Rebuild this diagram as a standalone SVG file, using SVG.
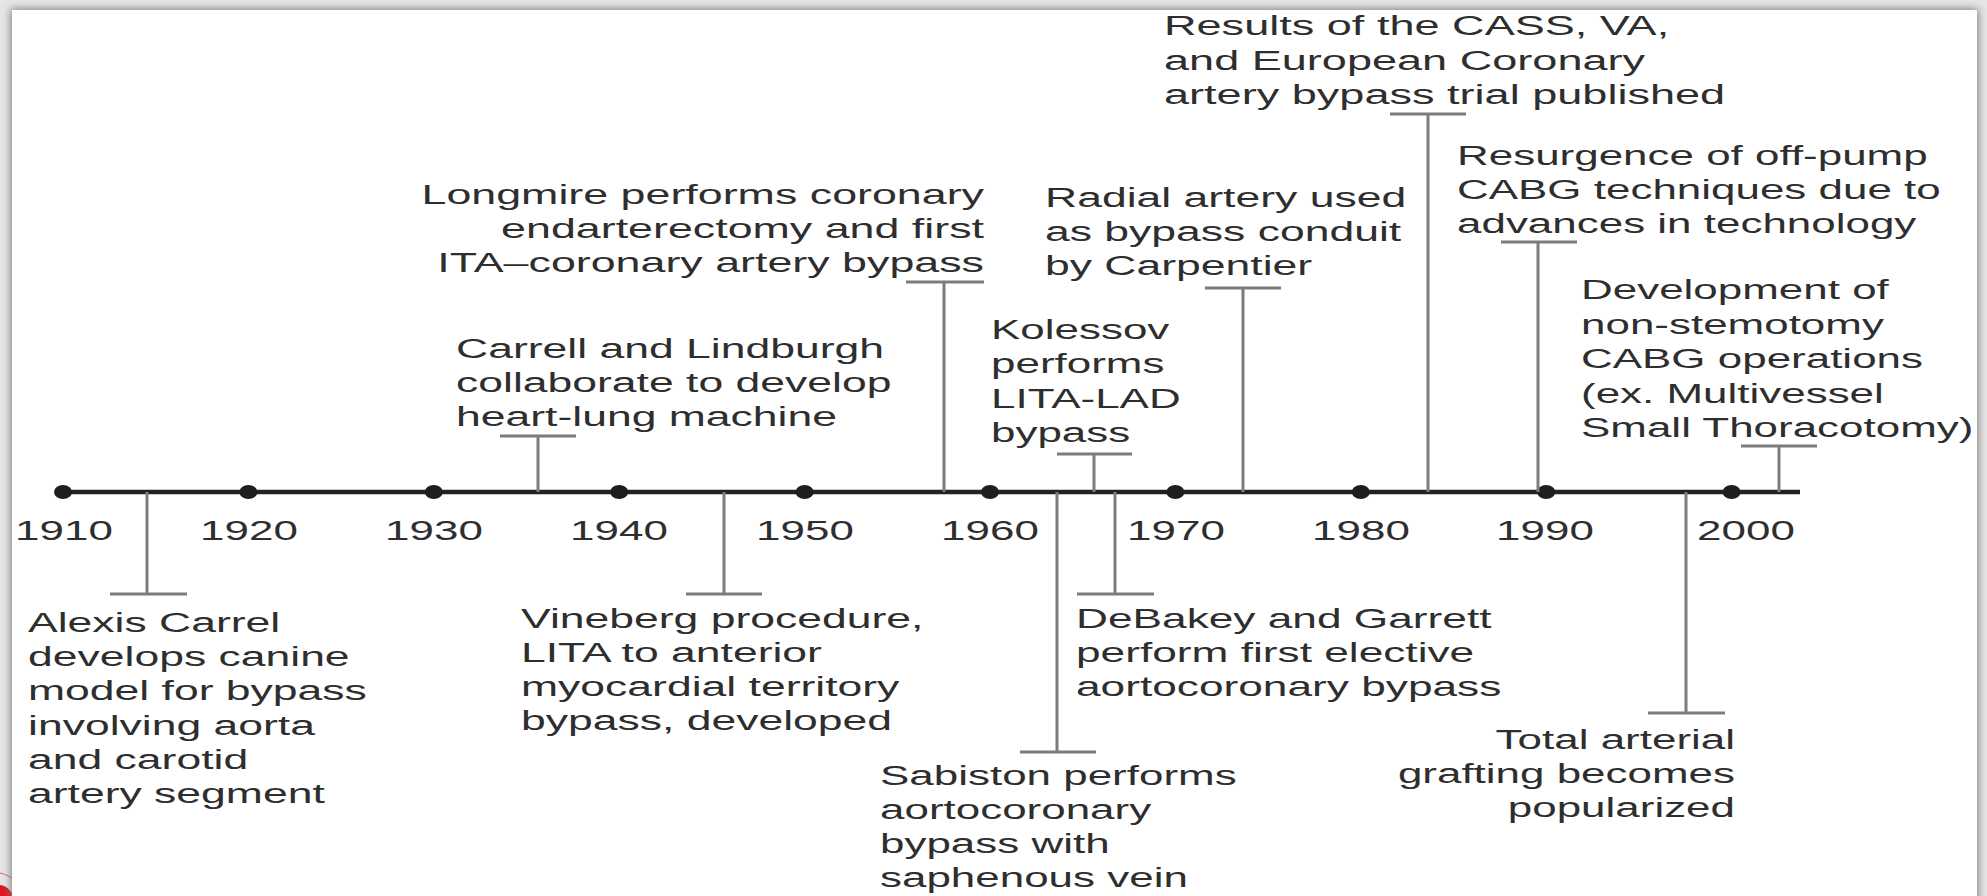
<svg xmlns="http://www.w3.org/2000/svg" width="1987" height="896" viewBox="0 0 1987 896">
<style>
.lbl{font-family:"Liberation Sans",Arial,sans-serif;font-size:28px;fill:#2e2e2e}
.yr{font-family:"Liberation Sans",Arial,sans-serif;font-size:28px;fill:#2e2e2e;text-anchor:middle}
.end{text-anchor:end}
.c{stroke:#7c7c7c;stroke-width:3;fill:none}
.axis{stroke:#222;stroke-width:4.5}
.dot{fill:#1e1e1e}
</style>
<defs>
<filter id="sh" x="-5%" y="-5%" width="110%" height="110%"><feGaussianBlur stdDeviation="4"/></filter>
</defs>
<rect x="0" y="0" width="1987" height="896" fill="#e6e6e6"/>
<circle cx="-2" cy="901" r="16" fill="#e0141e"/>
<circle cx="-8" cy="908" r="36" fill="none" stroke="#e06060" stroke-width="1"/>
<rect x="11" y="9" width="1967" height="920" fill="#7a7a7a" filter="url(#sh)"/>
<rect x="12" y="10" width="1965" height="900" fill="#ffffff"/>

<g id="axis">
<line class="axis" x1="63" y1="492" x2="1800" y2="492"/>
<ellipse class="dot" cx="63" cy="492" rx="9" ry="7"/>
<ellipse class="dot" cx="248.4" cy="492" rx="9" ry="7"/>
<ellipse class="dot" cx="433.8" cy="492" rx="9" ry="7"/>
<ellipse class="dot" cx="619.2" cy="492" rx="9" ry="7"/>
<ellipse class="dot" cx="804.6" cy="492" rx="9" ry="7"/>
<ellipse class="dot" cx="990" cy="492" rx="9" ry="7"/>
<ellipse class="dot" cx="1175.4" cy="492" rx="9" ry="7"/>
<ellipse class="dot" cx="1360.8" cy="492" rx="9" ry="7"/>
<ellipse class="dot" cx="1546.2" cy="492" rx="9" ry="7"/>
<ellipse class="dot" cx="1731.6" cy="492" rx="9" ry="7"/>
<text class="yr" transform="translate(64,540) scale(1.57,1)">1910</text>
<text class="yr" transform="translate(249,540) scale(1.57,1)">1920</text>
<text class="yr" transform="translate(434,540) scale(1.57,1)">1930</text>
<text class="yr" transform="translate(619,540) scale(1.57,1)">1940</text>
<text class="yr" transform="translate(805,540) scale(1.57,1)">1950</text>
<text class="yr" transform="translate(990,540) scale(1.57,1)">1960</text>
<text class="yr" transform="translate(1176,540) scale(1.57,1)">1970</text>
<text class="yr" transform="translate(1361,540) scale(1.57,1)">1980</text>
<text class="yr" transform="translate(1545,540) scale(1.57,1)">1990</text>
<text class="yr" transform="translate(1746,540) scale(1.57,1)">2000</text>
</g>

<g id="connectors">
<path class="c" d="M147 492V594M110 594H187"/>
<path class="c" d="M538 492V436M500 436H576"/>
<path class="c" d="M944 492V282M906 282H984"/>
<path class="c" d="M724 492V594M686 594H762"/>
<path class="c" d="M1057 492V752M1020 752H1096"/>
<path class="c" d="M1094 492V454M1057 454H1132"/>
<path class="c" d="M1115 492V594M1077 594H1154"/>
<path class="c" d="M1243 492V288M1205 288H1281"/>
<path class="c" d="M1428 492V114M1390 114H1466"/>
<path class="c" d="M1538 492V242M1501 242H1577"/>
<path class="c" d="M1779 492V446M1741 446H1817"/>
<path class="c" d="M1686 492V713M1648 713H1725"/>
</g>

<g id="n1910">
<text class="lbl" transform="translate(28,0) scale(1.59,1)"><tspan x="0" y="632">Alexis Carrel</tspan><tspan x="0" y="666">develops canine</tspan><tspan x="0" y="700">model for bypass</tspan><tspan x="0" y="735">involving aorta</tspan><tspan x="0" y="769">and carotid</tspan><tspan x="0" y="803">artery segment</tspan></text>
</g>
<g id="n1935">
<text class="lbl" transform="translate(456,0) scale(1.59,1)"><tspan x="0" y="358">Carrell and Lindburgh</tspan><tspan x="0" y="392">collaborate to develop</tspan><tspan x="0" y="426">heart-lung machine</tspan></text>
</g>
<g id="n1957">
<text class="lbl end" transform="translate(984,0) scale(1.6,1)"><tspan x="0" y="204">Longmire performs coronary</tspan><tspan x="0" y="238">endarterectomy and first</tspan><tspan x="0" y="272">ITA–coronary artery bypass</tspan></text>
</g>
<g id="n1946">
<text class="lbl" transform="translate(521,0) scale(1.59,1)"><tspan x="0" y="628">Vineberg procedure,</tspan><tspan x="0" y="662">LITA to anterior</tspan><tspan x="0" y="696">myocardial territory</tspan><tspan x="0" y="730">bypass, developed</tspan></text>
</g>
<g id="n1964s">
<text class="lbl" transform="translate(880,0) scale(1.57,1)"><tspan x="0" y="785">Sabiston performs</tspan><tspan x="0" y="819">aortocoronary</tspan><tspan x="0" y="853">bypass with</tspan><tspan x="0" y="887">saphenous vein</tspan></text>
</g>
<g id="n1964k">
<text class="lbl" transform="translate(991,0) scale(1.57,1)"><tspan x="0" y="339">Kolessov</tspan><tspan x="0" y="373">performs</tspan><tspan x="0" y="408">LITA-LAD</tspan><tspan x="0" y="442">bypass</tspan></text>
</g>
<g id="n1967">
<text class="lbl" transform="translate(1076,0) scale(1.58,1)"><tspan x="0" y="628">DeBakey and Garrett</tspan><tspan x="0" y="662">perform first elective</tspan><tspan x="0" y="696">aortocoronary bypass</tspan></text>
</g>
<g id="n1973">
<text class="lbl" transform="translate(1045,0) scale(1.59,1)"><tspan x="0" y="207">Radial artery used</tspan><tspan x="0" y="241">as bypass conduit</tspan><tspan x="0" y="275">by Carpentier</tspan></text>
</g>
<g id="n1983">
<text class="lbl" transform="translate(1164,0) scale(1.61,1)"><tspan x="0" y="35">Results of the CASS, VA,</tspan><tspan x="0" y="70">and European Coronary</tspan><tspan x="0" y="104">artery bypass trial published</tspan></text>
</g>
<g id="n1990">
<text class="lbl" transform="translate(1457,0) scale(1.57,1)"><tspan x="0" y="165">Resurgence of off-pump</tspan><tspan x="0" y="199">CABG techniques due to</tspan><tspan x="0" y="233">advances in technology</tspan></text>
</g>
<g id="n2002">
<text class="lbl" transform="translate(1581,0) scale(1.57,1)"><tspan x="0" y="299">Development of</tspan><tspan x="0" y="334">non-stemotomy</tspan><tspan x="0" y="368">CABG operations</tspan><tspan x="0" y="403">(ex. Multivessel</tspan><tspan x="0" y="437">Small Thoracotomy)</tspan></text>
</g>
<g id="n1997">
<text class="lbl end" transform="translate(1735,0) scale(1.57,1)"><tspan x="0" y="749">Total arterial</tspan><tspan x="0" y="783">grafting becomes</tspan><tspan x="0" y="817">popularized</tspan></text>
</g>
</svg>
